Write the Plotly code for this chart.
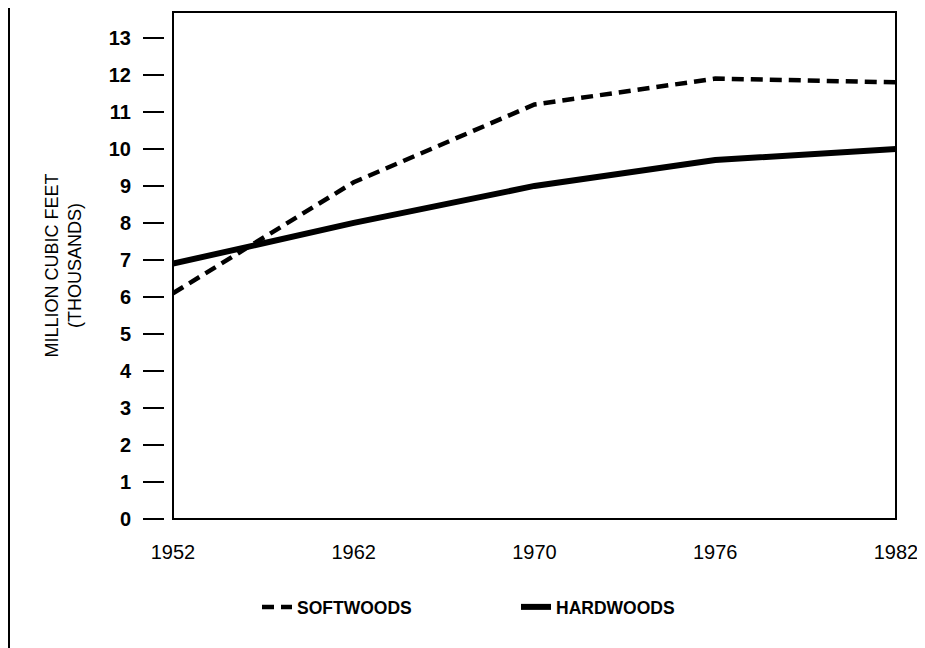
import plotly.graph_objects as go

years = ["1952", "1962", "1970", "1976", "1982"]
softwoods = [6.1, 9.1, 11.2, 11.9, 11.8]
hardwoods = [6.9, 8.0, 9.0, 9.7, 10.0]
y_ticks = list(range(0, 14))

FONT = "Liberation Sans, Arial, Helvetica, sans-serif"

fig = go.Figure()
fig.add_trace(go.Scatter(x=years, y=softwoods, mode="lines", name="SOFTWOODS",
                         line=dict(color="black", width=4.5, dash="12px,7px")))
fig.add_trace(go.Scatter(x=years, y=hardwoods, mode="lines", name="HARDWOODS",
                         line=dict(color="black", width=6)))

# page has an 8px body margin, so the figure is sized/positioned to compensate
W, H = 917, 640
ml, mr, mt, mb = 92, 29, 4, 129
pw = W - ml - mr
ph = H - mt - mb
box_left = 165
xdom0 = (box_left - ml) / pw
ypos = (156 - ml) / pw

fig.update_layout(
    width=W, height=H,
    margin=dict(l=ml, r=mr, t=mt, b=mb, autoexpand=False),
    paper_bgcolor="white", plot_bgcolor="white",
    font=dict(family=FONT, color="black"),
    showlegend=True,
    legend=dict(orientation="h", x=(249 - ml) / pw, xanchor="left",
                y=(H - mb - 599) / ph, yanchor="middle",
                font=dict(family=FONT, size=17.5, color="black", weight="bold"),
                entrywidth=214, entrywidthmode="pixels",
                bgcolor="rgba(0,0,0,0)"),
    xaxis=dict(domain=[xdom0, 1], type="category", range=[0, 4],
               showline=False, ticks="", showgrid=False, zeroline=False,
               tickfont=dict(family=FONT, size=20), ticklabelstandoff=19),
    yaxis=dict(anchor="free", position=ypos, range=[0, 13.7],
               tickvals=y_ticks, ticks="outside", ticklen=21, tickwidth=2,
               tickcolor="black", showline=False, showgrid=False, zeroline=False,
               tickfont=dict(family=FONT, size=20, weight="bold"),
               ticklabelstandoff=8,
               title=dict(text="MILLION CUBIC FEET<br>(THOUSANDS)",
                          font=dict(family=FONT, size=18), standoff=21)),
)

# plot frame
fig.add_shape(type="rect", xref="x domain", yref="y domain",
              x0=0, x1=1, y0=0, y1=1, line=dict(color="black", width=2),
              layer="above")

# scanned page border on the left
fig.add_shape(type="line", xref="paper", yref="paper",
              x0=(1 - ml) / pw, x1=(1 - ml) / pw,
              y0=(H - mb) / ph + 0.02, y1=-mb / ph - 0.02,
              line=dict(color="black", width=2))

fig.write_html("out.html")
